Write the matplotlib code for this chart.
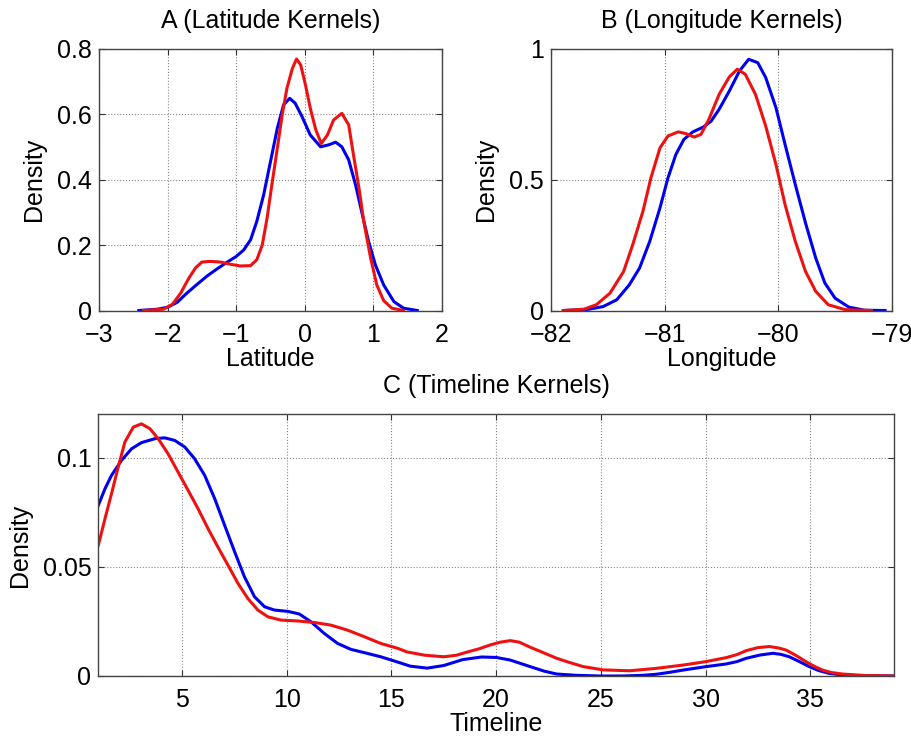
import numpy as np
import matplotlib.pyplot as plt

plt.rcParams['font.family'] = ['Liberation Sans', 'DejaVu Sans']
plt.rcParams['axes.unicode_minus'] = True

# --- A: latitude kernels ---
lat_blue_x = [-2.42, -2.15, -2.0, -1.86, -1.72, -1.57, -1.42, -1.28, -1.13, -1.0, -0.89,
              -0.79, -0.70, -0.60, -0.50, -0.40, -0.31, -0.22, -0.14, -0.04, 0.08, 0.23,
              0.35, 0.45, 0.54, 0.64, 0.74, 0.84, 0.93, 1.03, 1.15, 1.30, 1.44, 1.64]
lat_blue_y = [0.0, 0.004, 0.010, 0.025, 0.053, 0.080, 0.106, 0.127, 0.148, 0.165, 0.185,
              0.216, 0.272, 0.353, 0.455, 0.557, 0.628, 0.648, 0.633, 0.592, 0.536, 0.50,
              0.506, 0.514, 0.50, 0.46, 0.384, 0.292, 0.211, 0.139, 0.078, 0.027, 0.007, 0.0]
lat_red_x = [-2.35, -2.06, -1.93, -1.81, -1.69, -1.59, -1.50, -1.38, -1.23, -1.08, -0.94,
             -0.79, -0.70, -0.62, -0.55, -0.48, -0.40, -0.33, -0.26, -0.18, -0.12, -0.06,
             0.01, 0.08, 0.16, 0.24, 0.33, 0.42, 0.54, 0.64, 0.71, 0.79, 0.86, 0.96, 1.05,
             1.15, 1.27, 1.44]
lat_red_y = [0.0, 0.004, 0.019, 0.053, 0.099, 0.131, 0.148, 0.150, 0.148, 0.141, 0.136,
             0.137, 0.155, 0.20, 0.282, 0.384, 0.496, 0.597, 0.679, 0.74, 0.768, 0.75,
             0.689, 0.618, 0.552, 0.51, 0.536, 0.582, 0.602, 0.567, 0.475, 0.374, 0.272,
             0.16, 0.078, 0.03, 0.007, 0.0]

# --- B: longitude kernels ---
lon_blue_x = [-81.89, -81.69, -81.54, -81.42, -81.31, -81.22, -81.13, -81.04, -80.97, -80.90,
              -80.83, -80.75, -80.66, -80.59, -80.52, -80.43, -80.34, -80.26, -80.18, -80.11,
              -80.02, -79.94, -79.85, -79.76, -79.67, -79.59, -79.50, -79.38, -79.24, -79.06]
lon_blue_y = [0.0, 0.003, 0.015, 0.041, 0.098, 0.162, 0.264, 0.392, 0.506, 0.596,
              0.653, 0.682, 0.70, 0.723, 0.768, 0.838, 0.915, 0.959, 0.946, 0.889,
              0.774, 0.634, 0.481, 0.334, 0.20, 0.105, 0.047, 0.013, 0.001, 0.0]
lon_red_x = [-81.89, -81.71, -81.60, -81.48, -81.36, -81.28, -81.19, -81.12, -81.04, -80.97,
             -80.88, -80.81, -80.74, -80.68, -80.61, -80.52, -80.43, -80.36, -80.29, -80.20,
             -80.11, -80.02, -79.94, -79.85, -79.76, -79.67, -79.56, -79.41, -79.18]
lon_red_y = [0.0, 0.005, 0.022, 0.066, 0.149, 0.251, 0.379, 0.506, 0.621, 0.666,
             0.682, 0.675, 0.662, 0.672, 0.73, 0.825, 0.892, 0.921, 0.902, 0.825,
             0.704, 0.557, 0.404, 0.264, 0.149, 0.073, 0.022, 0.003, 0.0]

# --- C: timeline kernels ---
time_blue_x = [1.0, 1.32, 1.63, 2.11, 2.59, 3.06, 3.70, 4.17, 4.65, 5.13, 5.60, 6.08, 6.56,
               7.03, 7.51, 7.98, 8.46, 8.94, 9.41, 10.05, 10.6, 11.16, 11.79, 12.43, 13.06,
               13.7, 14.49, 15.29, 15.9, 16.7, 17.5, 18.4, 19.3, 20.0, 20.67, 21.62, 22.3,
               22.89, 23.84, 25.0, 26.06, 27.0, 27.65, 28.3, 28.92, 30.03, 30.98, 31.5, 31.94,
               32.6, 33.21, 33.6, 34.0, 34.5, 34.95, 35.4, 35.9, 36.5, 37.17, 39.0]
time_blue_y = [0.0782, 0.0858, 0.0919, 0.0988, 0.1041, 0.1069, 0.1087, 0.1091, 0.1079,
               0.1049, 0.0995, 0.0919, 0.0812, 0.0691, 0.0569, 0.0454, 0.0363, 0.0317,
               0.0302, 0.0296, 0.0284, 0.0248, 0.0195, 0.0149, 0.0122, 0.0107, 0.0088,
               0.0064, 0.0045, 0.0036, 0.0048, 0.0075, 0.0087, 0.0085, 0.0073, 0.0043,
               0.0022, 0.0009, 0.0003, 0.0, 0.0, 0.0003, 0.0008, 0.0017, 0.0027, 0.0043,
               0.0055, 0.0066, 0.0081, 0.0096, 0.0104, 0.0099, 0.0088, 0.0065, 0.0043,
               0.0025, 0.0012, 0.0005, 0.0002, 0.0]
time_red_x = [1.0, 1.32, 1.63, 1.95, 2.27, 2.67, 3.06, 3.46, 3.86, 4.33, 4.81, 5.29, 5.76,
              6.24, 6.71, 7.19, 7.67, 8.14, 8.62, 9.10, 9.73, 10.52, 11.32, 12.11, 12.90,
              13.7, 14.49, 15.29, 15.75, 16.6, 17.5, 18.1, 18.63, 19.2, 19.71, 20.2, 20.67,
              21.1, 21.62, 22.3, 22.89, 23.5, 24.16, 25.1, 26.38, 27.65, 28.92, 30.03, 30.98,
              31.5, 31.94, 32.5, 33.05, 33.5, 33.84, 34.3, 34.79, 35.2, 35.59, 36.0, 36.54,
              37.65, 39.0]
time_red_y = [0.0599, 0.0721, 0.0835, 0.0957, 0.1072, 0.114, 0.1155, 0.1133, 0.1087,
              0.1018, 0.0934, 0.085, 0.0767, 0.0675, 0.0591, 0.0508, 0.0424, 0.0355,
              0.0302, 0.0271, 0.0256, 0.0252, 0.0245, 0.0233, 0.021, 0.018, 0.0149,
              0.0127, 0.0110, 0.0095, 0.0088, 0.0095, 0.011, 0.0125, 0.0142, 0.0155,
              0.0162, 0.0155, 0.0132, 0.0105, 0.0081, 0.0062, 0.0043, 0.0028, 0.0024,
              0.0035, 0.005, 0.0066, 0.0084, 0.0098, 0.0116, 0.013, 0.0135, 0.0128,
              0.0119, 0.0095, 0.0066, 0.0044, 0.0027, 0.0016, 0.0009, 0.0002, 0.0]

FS = 18
LW = 2.2
BLUE = '#0000ee'
RED = '#ee1111'


def style(ax):
    ax.grid(True, linestyle=':', color='#888888', linewidth=0.8)
    ax.tick_params(direction='in', top=True, right=True, length=4, width=0.8,
                   labelsize=FS, colors='#333333', labelcolor='black')
    ax.tick_params(axis='x', pad=9)
    ax.tick_params(axis='y', pad=5)
    for s in ax.spines.values():
        s.set_color('#444444')
        s.set_linewidth(1.0)


fig = plt.figure(figsize=(9.12, 7.4), dpi=100)

ax1 = fig.add_axes([0.1086, 0.5804, 0.376, 0.354])
ax1.plot(lat_blue_x, lat_blue_y, color=BLUE, lw=LW)
ax1.plot(lat_red_x, lat_red_y, color=RED, lw=LW)
ax1.set_xlim(-3, 2)
ax1.set_ylim(0, 0.8)
ax1.set_xticks([-3, -2, -1, 0, 1, 2])
ax1.set_yticks([0, 0.2, 0.4, 0.6, 0.8])
ax1.set_yticklabels(['0', '0.2', '0.4', '0.6', '0.8'])
ax1.set_title('A (Latitude Kernels)', fontsize=FS, pad=15)
ax1.set_xlabel('Latitude', fontsize=FS, labelpad=0)
ax1.set_ylabel('Density', fontsize=FS, labelpad=8)
style(ax1)

ax2 = fig.add_axes([0.604, 0.5804, 0.374, 0.354])
ax2.plot(lon_blue_x, lon_blue_y, color=BLUE, lw=LW)
ax2.plot(lon_red_x, lon_red_y, color=RED, lw=LW)
ax2.set_xlim(-82, -79)
ax2.set_ylim(0, 1)
ax2.set_xticks([-82, -81, -80, -79])
ax2.set_yticks([0, 0.5, 1])
ax2.set_yticklabels(['0', '0.5', '1'])
ax2.set_title('B (Longitude Kernels)', fontsize=FS, pad=15)
ax2.set_xlabel('Longitude', fontsize=FS, labelpad=0)
ax2.set_ylabel('Density', fontsize=FS, labelpad=8)
style(ax2)

ax3 = fig.add_axes([0.1078, 0.0865, 0.8725, 0.354])
ax3.plot(time_blue_x, time_blue_y, color=BLUE, lw=LW)
ax3.plot(time_red_x, time_red_y, color=RED, lw=LW)
ax3.set_xlim(1, 39)
ax3.set_ylim(0, 0.12)
ax3.set_xticks([5, 10, 15, 20, 25, 30, 35])
ax3.set_yticks([0, 0.05, 0.1])
ax3.set_yticklabels(['0', '0.05', '0.1'])
ax3.set_title('C (Timeline Kernels)', fontsize=FS, pad=15)
ax3.set_xlabel('Timeline', fontsize=FS, labelpad=0)
ax3.set_ylabel('Density', fontsize=FS, labelpad=8)
style(ax3)

fig.savefig('out.png', dpi=100)
